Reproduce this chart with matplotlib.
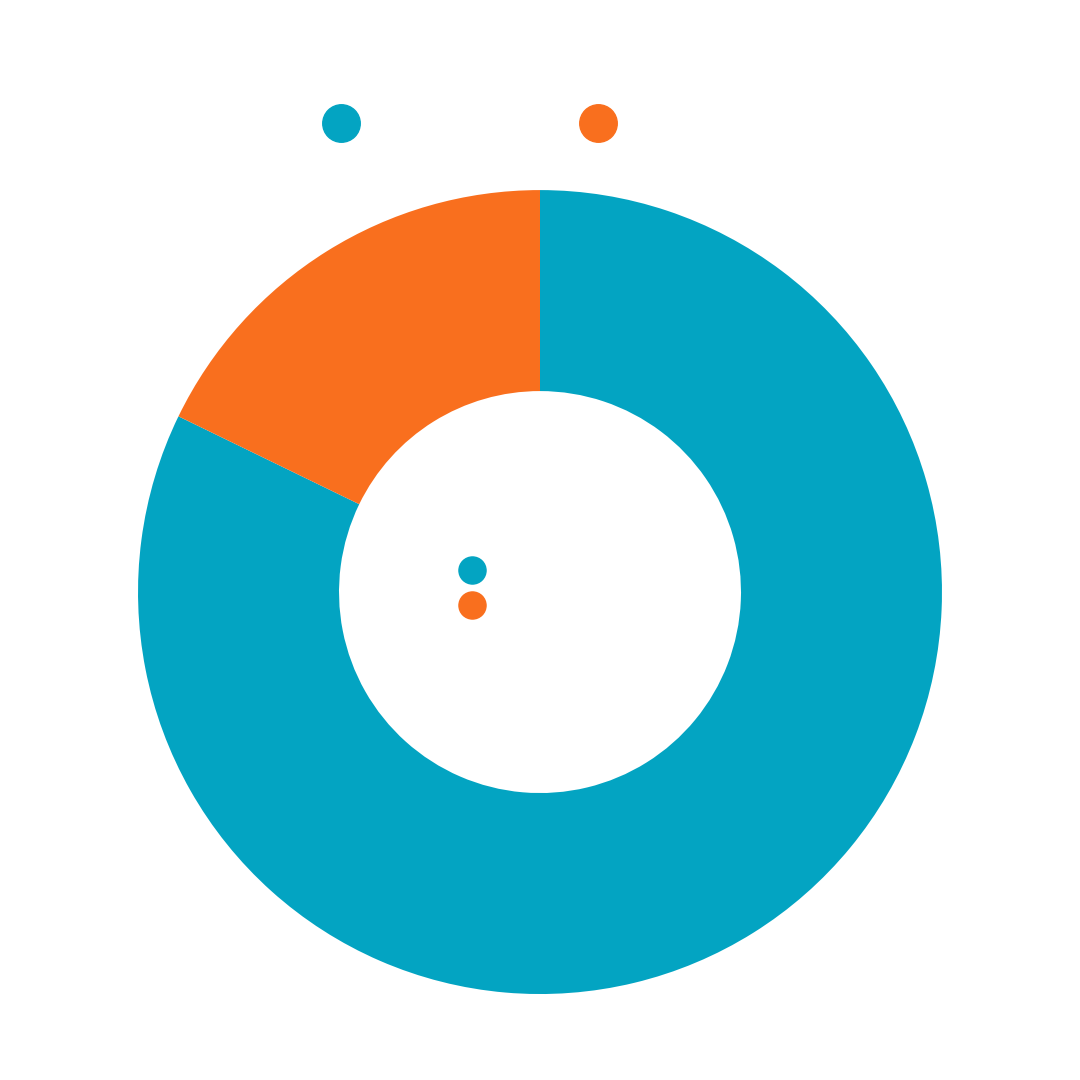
import matplotlib
matplotlib.use("Agg")
import matplotlib.pyplot as plt
from matplotlib.lines import Line2D

# --- DATA ---
categories = ["A", "B"]
values = [82.2, 17.8]
colors = ["#03A4C2", "#F96F1E"]

fig = plt.figure(figsize=(10.8, 10.8), dpi=100)
fig.patch.set_facecolor("white")

# donut
ax = fig.add_axes([0.1278, 0.0796, 0.7444, 0.7444])
ax.pie(values, colors=colors, startangle=90, counterclock=False,
       radius=1.0, wedgeprops=dict(width=0.5, linewidth=0))
ax.set_xlim(-1, 1)
ax.set_ylim(-1, 1)
ax.set_aspect("equal")
ax.axis("off")

# top legend (markers only, labels not visible in the original)
top_x = [341 / 1080, 598 / 1080]
for x, c in zip(top_x, colors):
    fig.add_artist(Line2D([x], [1 - 123 / 1080], marker="o", markersize=27,
                          color=c, linestyle="none", transform=fig.transFigure))

# inner legend
inner_y = [1 - 570 / 1080, 1 - 605 / 1080]
for y, c in zip(inner_y, colors):
    fig.add_artist(Line2D([472 / 1080], [y], marker="o", markersize=19.5,
                          color=c, linestyle="none", transform=fig.transFigure))

fig.savefig("out.png", dpi=100, facecolor="white")
